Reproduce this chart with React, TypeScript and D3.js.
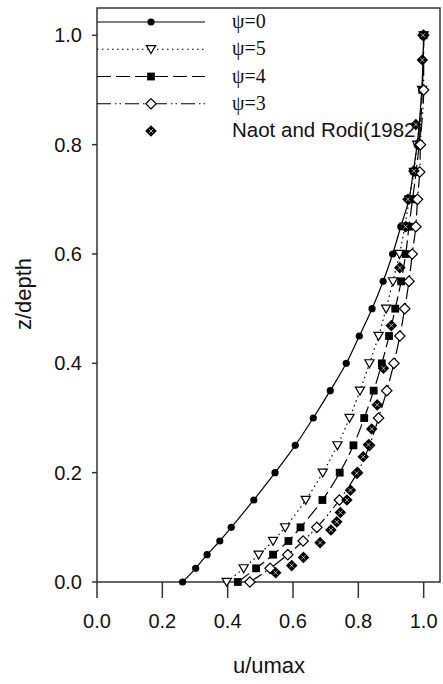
import React from 'react';
import * as d3 from 'd3';

// z/depth levels of the model profiles
const zLevels = [0, 0.025, 0.05, 0.075, 0.1, 0.15, 0.2, 0.25, 0.3, 0.35, 0.4, 0.45, 0.5, 0.55, 0.6, 0.65, 0.7, 0.75, 0.8, 0.9, 1.0];

const psi0 = [0.262, 0.302, 0.337, 0.376, 0.411, 0.48, 0.545, 0.607, 0.662, 0.714, 0.763, 0.803, 0.842, 0.876, 0.905, 0.93, 0.955, 0.968, 0.98, 0.994, 1.0];
const psi5 = [0.397, 0.449, 0.495, 0.539, 0.576, 0.639, 0.691, 0.736, 0.773, 0.805, 0.834, 0.862, 0.885, 0.906, 0.926, 0.942, 0.956, 0.97, 0.98, 0.995, 1.0];
const psi4 = [0.431, 0.487, 0.539, 0.586, 0.623, 0.69, 0.743, 0.785, 0.818, 0.847, 0.872, 0.894, 0.913, 0.931, 0.945, 0.955, 0.966, 0.977, 0.986, 0.996, 1.0];
const psi3 = [0.468, 0.53, 0.584, 0.631, 0.673, 0.742, 0.797, 0.834, 0.862, 0.887, 0.909, 0.927, 0.942, 0.955, 0.965, 0.976, 0.981, 0.988, 0.99, 1.0, 1.0];

// Naot and Rodi (1982) measurements
const naotZ = [0.017, 0.03, 0.045, 0.072, 0.095, 0.11, 0.127, 0.15, 0.168, 0.199, 0.229, 0.251, 0.28, 0.324, 0.391, 0.469, 0.575, 0.65, 0.7, 0.752, 0.837, 0.955, 1.0];
const naotU = [0.547, 0.596, 0.632, 0.683, 0.716, 0.734, 0.745, 0.765, 0.776, 0.795, 0.815, 0.831, 0.841, 0.858, 0.877, 0.901, 0.927, 0.945, 0.952, 0.97, 0.976, 0.996, 0.998];

const xTicks = [0, 0.2, 0.4, 0.6, 0.8, 1.0];
const yTicks = [0, 0.2, 0.4, 0.6, 0.8, 1.0];

const legendLabels = ['ψ=0', 'ψ=5', 'ψ=4', 'ψ=3', 'Naot and Rodi(1982)'];

const W = 443;
const H = 684;
const left = 97, right = 440, top = 8, bottom = 582;

const sans = '"Liberation Sans", Arial, sans-serif';
const serif = '"Liberation Serif", "Times New Roman", serif';

type Kind = 'circle' | 'triDown' | 'square' | 'diamond' | 'naot';

const Marker = ({ kind, x, y }: { kind: Kind; x: number; y: number }) => {
  if (kind === 'circle') return <circle cx={x} cy={y} r={3.6} fill="#000" />;
  if (kind === 'triDown')
    return <path d={`M${x - 4.6},${y - 3.6}L${x + 4.6},${y - 3.6}L${x},${y + 4.4}Z`} fill="#fff" stroke="#000" strokeWidth={1.2} />;
  if (kind === 'square') return <rect x={x - 3.9} y={y - 3.9} width={7.8} height={7.8} fill="#000" />;
  if (kind === 'diamond')
    return <path d={`M${x},${y - 5.2}L${x + 5.2},${y}L${x},${y + 5.2}L${x - 5.2},${y}Z`} fill="#fff" stroke="#000" strokeWidth={1.2} />;
  return (
    <g>
      <path d={`M${x},${y - 5.8}L${x + 5.8},${y}L${x},${y + 5.8}L${x - 5.8},${y}Z`} fill="#000" />
      <path d={`M${x - 2},${y - 2}L${x + 2},${y + 2}M${x + 2},${y - 2}L${x - 2},${y + 2}`} stroke="#fff" strokeWidth={0.7} />
    </g>
  );
};

export default function App() {
  const x = d3.scaleLinear().domain([0, 1.05]).range([left, right]);
  const y = d3.scaleLinear().domain([0, 1.05]).range([bottom, top]);

  const line = d3
    .line<[number, number]>()
    .x(d => x(d[0]))
    .y(d => y(d[1]))
    .curve(d3.curveMonotoneY);

  const series: { u: number[]; kind: Kind; dash: string }[] = [
    { u: psi0, kind: 'circle', dash: 'none' },
    { u: psi5, kind: 'triDown', dash: '1.5,3.5' },
    { u: psi4, kind: 'square', dash: '14,5' },
    { u: psi3, kind: 'diamond', dash: '14,4,1.5,3,1.5,4' },
  ];

  const legendKinds: Kind[] = ['circle', 'triDown', 'square', 'diamond', 'naot'];
  const legendY = d3.scaleLinear().domain([0, 4]).range([22, 131]);

  return (
    <svg width={W} height={H} style={{ position: 'absolute', left: 0, top: 0, background: '#fff' }}>
      {/* frame */}
      <rect x={left} y={top} width={right - left} height={bottom - top} fill="none" stroke="#333" strokeWidth={1.5} />

      {/* x axis ticks */}
      {xTicks.map(t => (
        <g key={'x' + t}>
          <line x1={x(t)} x2={x(t)} y1={bottom} y2={bottom + 16} stroke="#333" strokeWidth={1.5} />
          <text x={x(t)} y={628} textAnchor="middle" fontFamily={sans} fontSize={20} fill="#111">
            {d3.format('.1f')(t)}
          </text>
        </g>
      ))}
      {/* y axis ticks */}
      {yTicks.map(t => (
        <g key={'y' + t}>
          <line x1={left - 5} x2={left} y1={y(t)} y2={y(t)} stroke="#333" strokeWidth={1.5} />
          <text x={82} y={y(t) + 7} textAnchor="end" fontFamily={sans} fontSize={20} fill="#111">
            {d3.format('.1f')(t)}
          </text>
        </g>
      ))}

      <text x={269} y={673} textAnchor="middle" fontFamily={sans} fontSize={22} fill="#111">u/umax</text>
      <text transform={`translate(31,294) rotate(-90)`} textAnchor="middle" fontFamily={sans} fontSize={22} fill="#111">z/depth</text>

      {/* model profiles */}
      {series.map((s, i) => {
        const pts = s.u.map((u, j) => [u, zLevels[j]] as [number, number]);
        return (
          <g key={'s' + i}>
            <path d={line(pts) || ''} fill="none" stroke="#000" strokeWidth={1.2} strokeDasharray={s.dash} />
            {pts.map((p, j) => (
              <Marker key={j} kind={s.kind} x={x(p[0])} y={y(p[1])} />
            ))}
          </g>
        );
      })}

      {/* measurements */}
      {naotU.map((u, j) => (
        <Marker key={'n' + j} kind="naot" x={x(u)} y={y(naotZ[j])} />
      ))}

      {/* legend */}
      {legendLabels.map((lab, i) => {
        const ly = legendY(i);
        return (
          <g key={'l' + i}>
            {i < 4 && (
              <line x1={left} x2={205} y1={ly} y2={ly} stroke="#000" strokeWidth={1.2} strokeDasharray={series[i].dash} />
            )}
            <Marker kind={legendKinds[i]} x={151} y={ly} />
            <text
              x={232}
              y={ly + 6}
              fontFamily={i < 4 ? serif : sans}
              fontSize={i < 4 ? 20 : 20.5}
              fill="#111"
            >
              {lab}
            </text>
          </g>
        );
      })}
    </svg>
  );
}
